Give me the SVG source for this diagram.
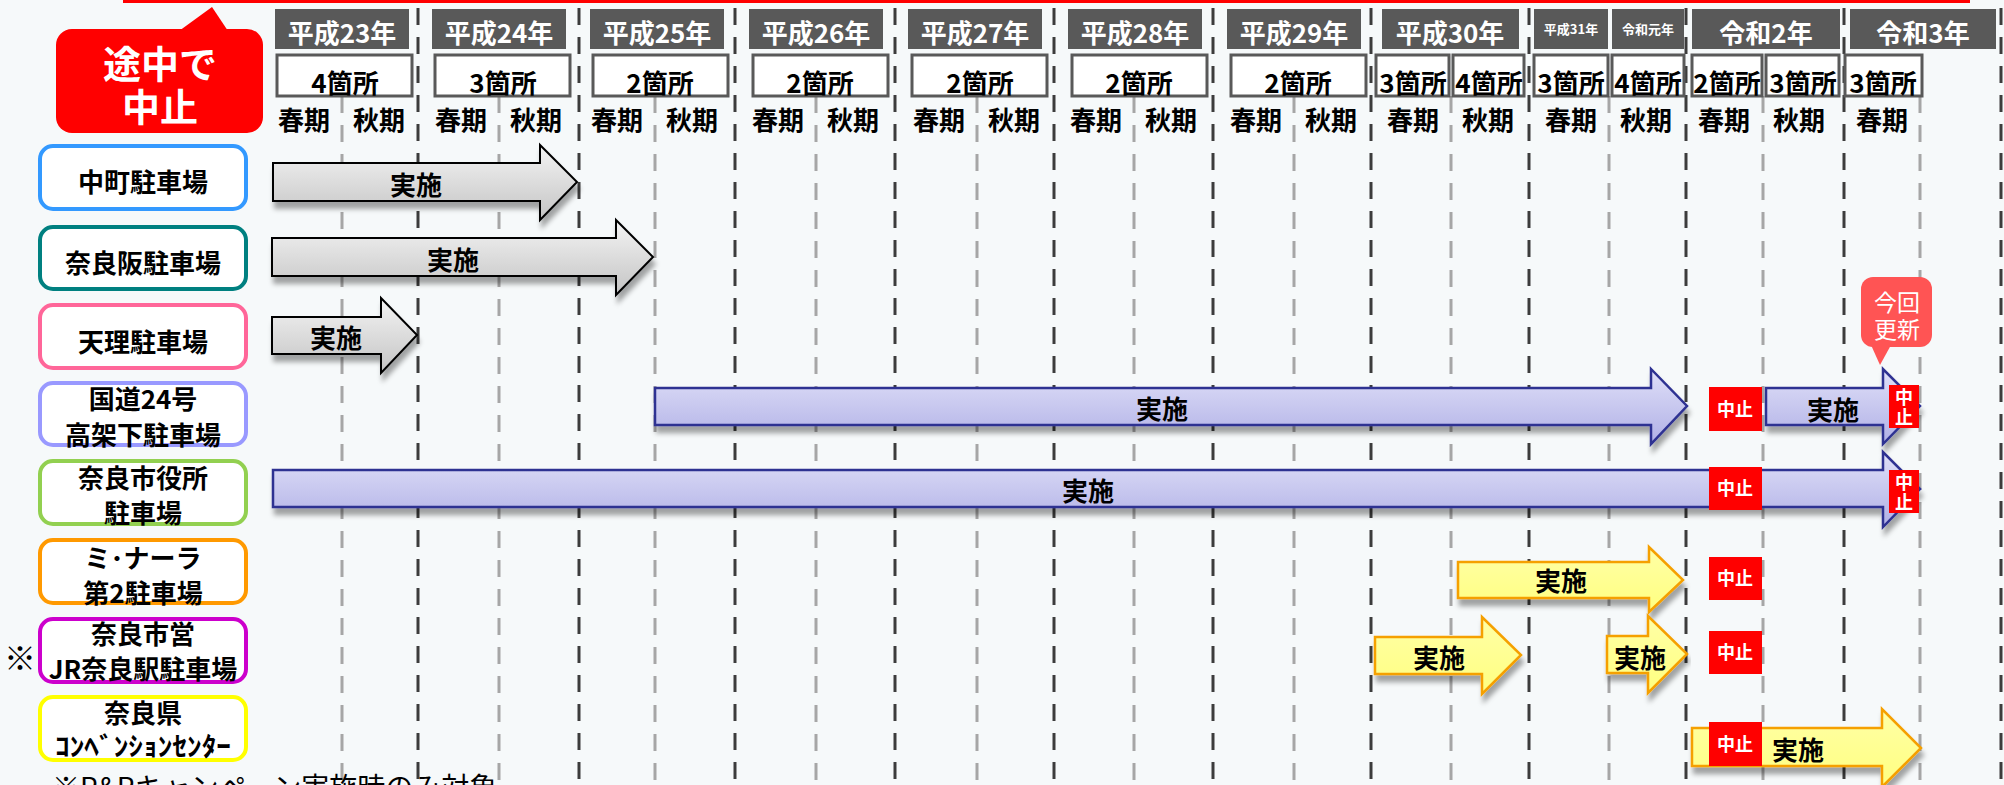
<svg xmlns="http://www.w3.org/2000/svg" width="2004" height="785" viewBox="0 0 2004 785">
<defs>
<style>
text{font-family:"Noto Sans CJK JP","Noto Sans",sans-serif;}
.hdr{fill:#595959;}
.ht{fill:#fff;font-size:26px;font-weight:bold;text-anchor:middle;}
.hs{fill:#fff;font-size:13px;font-weight:bold;text-anchor:middle;}
.cb{fill:#fff;stroke:#595959;stroke-width:3;}
.ct{fill:#000;font-size:26px;font-weight:bold;text-anchor:middle;}
.se{fill:#000;font-size:26px;font-weight:bold;text-anchor:middle;}
.lb{fill:#fff;stroke-width:4;}
.lt{fill:#000;font-size:26px;font-weight:bold;text-anchor:middle;}
.dk{stroke:#3c3c3c;stroke-width:3;stroke-dasharray:17 12;fill:none;}
.lg{stroke:#a6a6a6;stroke-width:3;stroke-dasharray:17 12;fill:none;}
.ag{fill:url(#gGray);stroke:#000;stroke-width:2;filter:url(#sh);}
.ab{fill:url(#gBlue);stroke:#2e3192;stroke-width:2.5;filter:url(#sh);}
.ay{fill:url(#gYel);stroke:#f5a000;stroke-width:2.5;filter:url(#sh);}
.at{fill:#000;font-size:26px;font-weight:bold;text-anchor:middle;}
.stop{fill:#ff0000;}
.st{fill:#fff;font-size:18px;font-weight:bold;text-anchor:middle;}
</style>
<linearGradient id="gGray" x1="0" y1="0" x2="0" y2="1"><stop offset="0" stop-color="#f4f4f4"/><stop offset="1" stop-color="#c4c4c4"/></linearGradient>
<linearGradient id="gBlue" x1="0" y1="0" x2="0" y2="1"><stop offset="0" stop-color="#e0e0f8"/><stop offset="1" stop-color="#b0b0e6"/></linearGradient>
<linearGradient id="gYel" x1="0" y1="0" x2="0" y2="1"><stop offset="0" stop-color="#ffffa6"/><stop offset="1" stop-color="#ffff80"/></linearGradient>
<filter id="sh" x="-5%" y="-30%" width="110%" height="170%"><feDropShadow dx="2" dy="7" stdDeviation="2.5" flood-color="#000" flood-opacity="0.35"/></filter>
</defs>
<rect width="2004" height="785" fill="#f6f9fa"/>
<rect x="123" y="0" width="1847" height="3" fill="#ff0000"/>

<g id="callout-stop">
<rect x="56" y="29" width="207" height="104" rx="16" fill="#ff0000"/>
<polygon points="179,31 212,7 228,31" fill="#ff0000"/>
<text x="160" y="78" fill="#fff" font-size="38" font-weight="bold" text-anchor="middle">途中で</text>
<text x="160" y="121" fill="#fff" font-size="38" font-weight="bold" text-anchor="middle">中止</text>
</g>

<g id="header-years">
<rect class="hdr" x="275" y="9" width="134" height="40"/><text class="ht" x="342" y="43">平成23年</text>
<rect class="hdr" x="432" y="9" width="134" height="40"/><text class="ht" x="499" y="43">平成24年</text>
<rect class="hdr" x="590" y="9" width="134" height="40"/><text class="ht" x="657" y="43">平成25年</text>
<rect class="hdr" x="749" y="9" width="134" height="40"/><text class="ht" x="816" y="43">平成26年</text>
<rect class="hdr" x="908" y="9" width="134" height="40"/><text class="ht" x="975" y="43">平成27年</text>
<rect class="hdr" x="1068" y="9" width="134" height="40"/><text class="ht" x="1135" y="43">平成28年</text>
<rect class="hdr" x="1227" y="9" width="134" height="40"/><text class="ht" x="1294" y="43">平成29年</text>
<rect class="hdr" x="1382" y="9" width="137" height="40"/><text class="ht" x="1450" y="43">平成30年</text>
<rect class="hdr" x="1534" y="9" width="74" height="40"/><text class="hs" x="1571" y="34">平成31年</text>
<rect class="hdr" x="1612" y="9" width="72" height="40"/><text class="hs" x="1648" y="34">令和元年</text>
<rect class="hdr" x="1692" y="9" width="148" height="40"/><text class="ht" x="1766" y="43">令和2年</text>
<rect class="hdr" x="1850" y="9" width="146" height="40"/><text class="ht" x="1923" y="43">令和3年</text>
</g>

<g id="grid-lines">
<line class="dk" x1="418" y1="8" x2="418" y2="785"/>
<line class="dk" x1="579" y1="8" x2="579" y2="785"/>
<line class="dk" x1="735" y1="8" x2="735" y2="785"/>
<line class="dk" x1="895" y1="8" x2="895" y2="785"/>
<line class="dk" x1="1054" y1="8" x2="1054" y2="785"/>
<line class="dk" x1="1213" y1="8" x2="1213" y2="785"/>
<line class="dk" x1="1371" y1="8" x2="1371" y2="785"/>
<line class="dk" x1="1529" y1="8" x2="1529" y2="785"/>
<line class="dk" x1="1686" y1="8" x2="1686" y2="785"/>
<line class="dk" x1="1844" y1="8" x2="1844" y2="785"/>
<line class="dk" x1="2001" y1="8" x2="2001" y2="785"/>
<line class="lg" x1="342" y1="96" x2="342" y2="780"/>
<line class="lg" x1="499" y1="96" x2="499" y2="780"/>
<line class="lg" x1="655" y1="96" x2="655" y2="780"/>
<line class="lg" x1="816" y1="96" x2="816" y2="780"/>
<line class="lg" x1="977" y1="96" x2="977" y2="780"/>
<line class="lg" x1="1134" y1="96" x2="1134" y2="780"/>
<line class="lg" x1="1294" y1="96" x2="1294" y2="780"/>
<line class="lg" x1="1451" y1="96" x2="1451" y2="780"/>
<line class="lg" x1="1609" y1="96" x2="1609" y2="780"/>
<line class="lg" x1="1763" y1="96" x2="1763" y2="780"/>
<line class="lg" x1="1920" y1="96" x2="1920" y2="780"/>
</g>

<g id="header-counts">
<rect class="cb" x="277" y="55" width="135" height="41"/><text class="ct" x="345" y="93">4箇所</text>
<rect class="cb" x="435" y="55" width="135" height="41"/><text class="ct" x="503" y="93">3箇所</text>
<rect class="cb" x="593" y="55" width="135" height="41"/><text class="ct" x="660" y="93">2箇所</text>
<rect class="cb" x="753" y="55" width="135" height="41"/><text class="ct" x="820" y="93">2箇所</text>
<rect class="cb" x="912" y="55" width="135" height="41"/><text class="ct" x="980" y="93">2箇所</text>
<rect class="cb" x="1072" y="55" width="135" height="41"/><text class="ct" x="1139" y="93">2箇所</text>
<rect class="cb" x="1231" y="55" width="135" height="41"/><text class="ct" x="1298" y="93">2箇所</text>
<rect class="cb" x="1376" y="55" width="73" height="41"/><text class="ct" x="1413" y="93">3箇所</text>
<rect class="cb" x="1453" y="55" width="71" height="41"/><text class="ct" x="1489" y="93">4箇所</text>
<rect class="cb" x="1534" y="55" width="74" height="41"/><text class="ct" x="1571" y="93">3箇所</text>
<rect class="cb" x="1612" y="55" width="72" height="41"/><text class="ct" x="1648" y="93">4箇所</text>
<rect class="cb" x="1692" y="55" width="70" height="41"/><text class="ct" x="1727" y="93">2箇所</text>
<rect class="cb" x="1766" y="55" width="73" height="41"/><text class="ct" x="1803" y="93">3箇所</text>
<rect class="cb" x="1845" y="55" width="77" height="41"/><text class="ct" x="1883" y="93">3箇所</text>
</g>

<g id="header-seasons">
<text class="se" x="304" y="130">春期</text><text class="se" x="379" y="130">秋期</text>
<text class="se" x="461" y="130">春期</text><text class="se" x="536" y="130">秋期</text>
<text class="se" x="617" y="130">春期</text><text class="se" x="692" y="130">秋期</text>
<text class="se" x="778" y="130">春期</text><text class="se" x="853" y="130">秋期</text>
<text class="se" x="939" y="130">春期</text><text class="se" x="1014" y="130">秋期</text>
<text class="se" x="1096" y="130">春期</text><text class="se" x="1171" y="130">秋期</text>
<text class="se" x="1256" y="130">春期</text><text class="se" x="1331" y="130">秋期</text>
<text class="se" x="1413" y="130">春期</text><text class="se" x="1488" y="130">秋期</text>
<text class="se" x="1571" y="130">春期</text><text class="se" x="1646" y="130">秋期</text>
<text class="se" x="1724" y="130">春期</text><text class="se" x="1799" y="130">秋期</text>
<text class="se" x="1882" y="130">春期</text>
</g>

<g id="row-nakamachi">
<rect class="lb" x="40" y="146" width="206" height="63" rx="13" stroke="#3399ff"/>
<text class="lt" x="143" y="192">中町駐車場</text>
<polygon class="ag" points="273,163 540,163 540,145 577,182 540,220 540,201 273,201"/>
<text class="at" x="416" y="195">実施</text>
</g>

<g id="row-narazaka">
<rect class="lb" x="40" y="227" width="206" height="62" rx="13" stroke="#008080"/>
<text class="lt" x="143" y="273">奈良阪駐車場</text>
<polygon class="ag" points="272,238 616,238 616,220 653,257 616,295 616,276 272,276"/>
<text class="at" x="453" y="270">実施</text>
</g>

<g id="row-tenri">
<rect class="lb" x="40" y="305" width="206" height="63" rx="13" stroke="#ff6699"/>
<text class="lt" x="143" y="352">天理駐車場</text>
<polygon class="ag" points="272,317 381,317 381,298 417,335 381,373 381,354 272,354"/>
<text class="at" x="336" y="348">実施</text>
</g>

<g id="row-kokudo24">
<rect class="lb" x="40" y="383" width="206" height="62" rx="13" stroke="#9999ff"/>
<text class="lt" x="143" y="409">国道24号</text>
<text class="lt" x="143" y="445">高架下駐車場</text>
<polygon class="ab" points="655,388 1651,388 1651,369 1687,406 1651,444 1651,425 655,425"/>
<text class="at" x="1162" y="419">実施</text>
<polygon class="ab" points="1766,388 1883,388 1883,369 1920,406 1883,444 1883,425 1766,425"/>
<text class="at" x="1833" y="420">実施</text>
</g>

<g id="row-shiyakusho">
<rect class="lb" x="40" y="461" width="206" height="63" rx="13" stroke="#92d050"/>
<text class="lt" x="143" y="488">奈良市役所</text>
<text class="lt" x="143" y="523">駐車場</text>
<polygon class="ab" points="273,470 1883,470 1883,452 1920,489 1883,527 1883,507 273,507"/>
<text class="at" x="1088" y="501">実施</text>
</g>

<g id="row-minara">
<rect class="lb" x="40" y="540" width="206" height="63" rx="13" stroke="#ff9900"/>
<text class="lt" x="143" y="568">ミ･ナーラ</text>
<text class="lt" x="143" y="603">第2駐車場</text>
<polygon class="ay" points="1458,562 1649,562 1649,547 1683,580 1649,612 1649,598 1458,598"/>
<text class="at" x="1561" y="591">実施</text>
</g>

<g id="row-jrnara">
<text x="20" y="670" font-size="32" text-anchor="middle" fill="#000">※</text>
<rect class="lb" x="40" y="619" width="206" height="63" rx="13" stroke="#cc00cc"/>
<text class="lt" x="143" y="644">奈良市営</text>
<text class="lt" x="143" y="679">JR奈良駅駐車場</text>
<polygon class="ay" points="1375,637 1482,637 1482,617 1521,655 1482,694 1482,674 1375,674"/>
<text class="at" x="1439" y="668">実施</text>
<polygon class="ay" points="1607,636 1648,636 1648,616 1687,654 1648,693 1648,673 1607,673"/>
<text class="at" x="1640" y="668">実施</text>
</g>

<g id="row-convention">
<rect class="lb" x="40" y="697" width="206" height="63" rx="13" stroke="#ffff00"/>
<text class="lt" x="143" y="723">奈良県</text>
<text class="lt" x="143" y="756" textLength="176" lengthAdjust="spacingAndGlyphs">ｺﾝﾍﾞﾝｼｮﾝｾﾝﾀｰ</text>
<polygon class="ay" points="1692,728 1882,728 1882,709 1921,748 1882,787 1882,766 1692,766"/>
<text class="at" x="1798" y="760">実施</text>
</g>

<g id="stop-marks">
<rect class="stop" x="1709" y="387" width="53" height="44"/><text class="st" x="1735" y="416">中止</text>
<rect class="stop" x="1889" y="385" width="30" height="43"/><text class="st" x="1904" y="404">中</text><text class="st" x="1904" y="424">止</text>
<rect class="stop" x="1709" y="467" width="53" height="43"/><text class="st" x="1735" y="495">中止</text>
<rect class="stop" x="1889" y="470" width="30" height="43"/><text class="st" x="1904" y="489">中</text><text class="st" x="1904" y="509">止</text>
<rect class="stop" x="1709" y="557" width="53" height="43"/><text class="st" x="1735" y="585">中止</text>
<rect class="stop" x="1709" y="631" width="53" height="43"/><text class="st" x="1735" y="659">中止</text>
<rect class="stop" x="1709" y="722" width="53" height="44"/><text class="st" x="1735" y="751">中止</text>
</g>

<g id="callout-update">
<rect x="1861" y="277" width="71" height="70" rx="12" fill="#ff5454"/>
<polygon points="1871,345 1880,365 1891,345" fill="#ff5454"/>
<text x="1897" y="311" fill="#fff" font-size="23" text-anchor="middle">今回</text>
<text x="1897" y="338" fill="#fff" font-size="23" text-anchor="middle">更新</text>
</g>

<text id="footnote" x="52" y="798" font-size="28" fill="#000">※P&amp;Rキャンペーン実施時のみ対象</text>
</svg>
